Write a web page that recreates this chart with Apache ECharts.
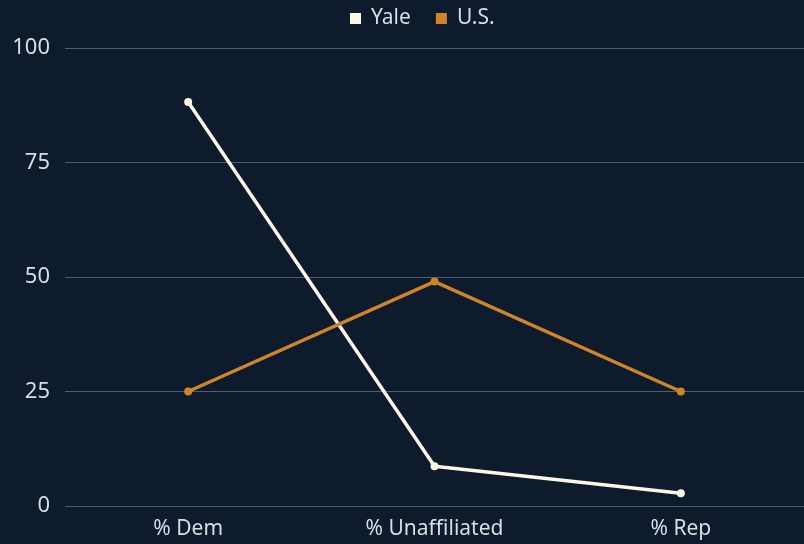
<!DOCTYPE html>
<html>
<head>
<meta charset="utf-8">
<script src="https://cdn.jsdelivr.net/npm/echarts@6/dist/echarts.min.js"></script>
<style>
  html, body { margin: 0; padding: 0; background: #0e1b2c; }
  #chart { width: 804px; height: 544px; }
</style>
</head>
<body>
<div id="chart"></div>
<script>
const categories = ['% Dem', '% Unaffiliated', '% Rep'];
const yaleValues = [88.2, 8.7, 2.8];
const usValues = [25, 49, 25];

const textColor = '#d9dee4';
const font = 'Noto Sans';

const chart = echarts.init(document.getElementById('chart'));
chart.setOption({
    backgroundColor: '#0e1b2c',
    textStyle: { fontFamily: font },
    legend: {
        top: 3,
        left: 345,
        itemWidth: 11,
        itemHeight: 11,
        itemGap: 25,
        icon: 'rect',
        textStyle: { color: textColor, fontSize: 21, fontFamily: font, padding: [0, 0, 0, 5] },
        data: ['Yale', 'U.S.']
    },
    grid: { left: 65, right: 0, top: 48, bottom: 38 },
    xAxis: {
        type: 'category',
        data: categories,
        boundaryGap: true,
        axisLine: { show: false },
        axisTick: { show: false },
        axisLabel: { color: textColor, fontSize: 21, margin: 13, fontFamily: font }
    },
    yAxis: {
        type: 'value',
        min: 0,
        max: 100,
        interval: 25,
        axisLine: { show: false },
        axisTick: { show: false },
        axisLabel: { color: textColor, fontSize: 22, margin: 15, fontFamily: font },
        splitLine: { lineStyle: { color: '#4d5e70', width: 1 } }
    },
    series: [
        {
            name: 'Yale',
            type: 'line',
            data: yaleValues,
            color: '#fbf6e6',
            symbol: 'circle',
            symbolSize: 8,
            lineStyle: { width: 3.5, color: '#fbf6e6' },
            itemStyle: { color: '#fbf6e6' }
        },
        {
            name: 'U.S.',
            type: 'line',
            data: usValues,
            color: '#cf842b',
            symbol: 'circle',
            symbolSize: 8,
            lineStyle: { width: 3.5, color: '#cf842b' },
            itemStyle: { color: '#cf842b' }
        }
    ]
});
</script>
</body>
</html>
